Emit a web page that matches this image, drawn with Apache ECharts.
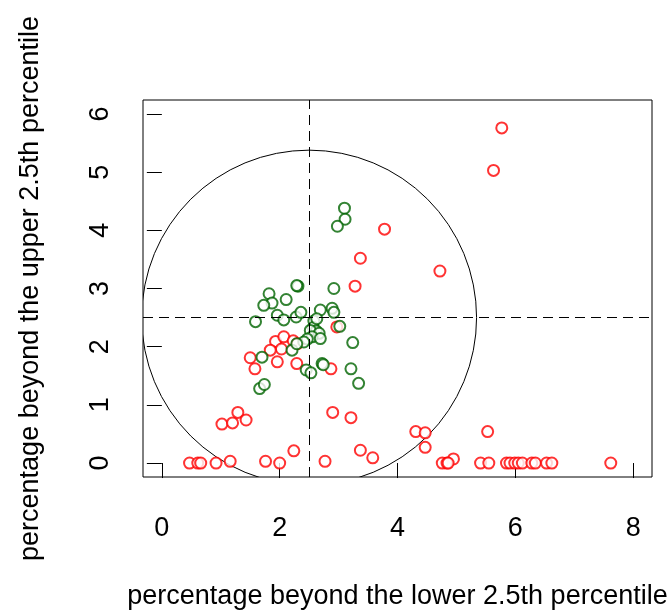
<!DOCTYPE html>
<html>
<head>
<meta charset="utf-8">
<script src="https://cdn.jsdelivr.net/npm/echarts@6/dist/echarts.min.js"></script>
<style>
  html, body { margin: 0; padding: 0; background: #fff; }
  #chart { width: 671px; height: 615px; }
</style>
</head>
<body>
<div id="chart"></div>
<script>
// points
const redX = [5.77, 5.63, 4.72, 3.78, 3.37, 3.28,
  2.97, 1.93, 2.07, 2.23, 2.30, 2.03, 1.84, 1.50, 1.58, 1.96, 2.29, 2.87,
  2.90, 3.21, 1.02, 1.20, 1.29, 1.43, 2.24, 3.37, 3.58, 4.31, 4.47, 4.47, 5.53, 4.95, 1.16, 1.76, 2.77,
  0.47, 0.61, 0.66, 0.92, 2.00, 4.76, 4.84, 4.86, 5.41, 5.55, 5.85, 5.91, 5.99, 6.05, 6.12, 6.28, 6.34, 6.53, 6.62, 7.62]
const redY = [5.76, 5.03, 3.30, 4.02, 3.52, 3.04,
  2.34, 2.09, 2.17, 2.10, 2.05, 1.96, 1.94, 1.81, 1.62, 1.74, 1.71, 1.62,
  0.87, 0.78, 0.67, 0.69, 0.87, 0.74, 0.21, 0.22, 0.09, 0.54, 0.52, 0.27, 0.54, 0.07, 0.03, 0.03, 0.03,
  0, 0, 0, 0, 0, 0, 0, 0, 0, 0, 0, 0, 0, 0, 0, 0, 0, 0, 0, 0]
const greenX = [3.10, 3.11, 2.98, 2.31, 2.29, 2.92, 1.82, 1.87, 1.73, 2.11,
  1.96, 2.07, 1.59, 2.28, 2.36, 2.69, 2.89, 2.92, 3.02, 2.58,
  2.57, 2.62, 2.52, 2.67, 2.55, 2.47, 2.69, 2.41, 3.24, 2.21,
  2.29, 1.70, 2.72, 2.74, 3.21, 3.34, 2.45, 2.53, 1.66, 1.74, 2.63]
const greenY = [4.38, 4.19, 4.07, 3.04, 3.05, 3.00, 2.91, 2.75, 2.71, 2.81,
  2.54, 2.46, 2.43, 2.51, 2.59, 2.63, 2.66, 2.59, 2.35, 2.44,
  2.33, 2.27, 2.28, 2.23, 2.17, 2.13, 2.14, 2.08, 2.07, 1.94,
  2.05, 1.82, 1.71, 1.69, 1.62, 1.37, 1.60, 1.55, 1.28, 1.35, 2.48]
const xTicks = [0, 2, 4, 6, 8]
const yTicks = [0, 1, 2, 3, 4, 5, 6]
const cutoff = 2.5
const circleRadius = 2.86

const FONT = 'Liberation Sans'
const toPairs = (xs, ys) => xs.map((x, i) => [x, ys[i]])

const chart = echarts.init(document.getElementById('chart'))

const axisCommon = {
  type: 'value',
  axisLine: {show: false},
  splitLine: {show: false},
  axisTick: {show: true, inside: false, length: 15, lineStyle: {color: '#000', width: 1}},
  nameLocation: 'middle',
  nameTextStyle: {fontFamily: FONT, fontSize: 27, color: '#000'}
}

chart.setOption({
  animation: false,
  grid: {
    left: 143, right: 19, top: 100, bottom: 134,
    show: true, borderColor: '#000', borderWidth: 1, backgroundColor: 'transparent'
  },
  xAxis: Object.assign({}, axisCommon, {
    min: -0.32, max: 8.32,
    name: 'percentage beyond the lower 2.5th percentile',
    nameGap: 106,
    axisTick: Object.assign({}, axisCommon.axisTick, {customValues: xTicks}),
    axisLabel: {customValues: xTicks, margin: 38, fontFamily: FONT, fontSize: 27, lineHeight: 27, color: '#000'}
  }),
  yAxis: Object.assign({}, axisCommon, {
    min: -0.24, max: 6.24,
    name: 'percentage beyond the upper 2.5th percentile',
    nameGap: 99,
    axisTick: Object.assign({}, axisCommon.axisTick, {customValues: yTicks}),
    axisLabel: {customValues: yTicks, rotate: 90, margin: 29, fontFamily: FONT, fontSize: 27, lineHeight: 27, color: '#000'}
  }),
  series: [
    {
      type: 'custom',
      silent: true,
      data: [[cutoff, cutoff, circleRadius]],
      renderItem: (params, api) => {
        const c = api.coord([api.value(0), api.value(1)])
        const s = api.size([api.value(2), api.value(2)])
        const cs = params.coordSys
        return {
          type: 'circle',
          shape: {cx: c[0], cy: c[1], r: (s[0] + s[1]) / 2},
          style: {fill: 'none', stroke: '#000', lineWidth: 1},
          clipPath: {type: 'rect', shape: {x: cs.x, y: cs.y, width: cs.width, height: cs.height}}
        }
      }
    },
    {
      type: 'scatter',
      data: toPairs(redX, redY),
      symbol: 'emptyCircle',
      symbolSize: 11,
      itemStyle: {color: '#ff0000', borderColor: '#ff0000', borderWidth: 1},
      markLine: {
        silent: true,
        symbol: 'none',
        label: {show: false},
        lineStyle: {color: '#000', type: [10, 6], width: 1},
        data: [{xAxis: cutoff}, {yAxis: cutoff}]
      }
    },
    {
      type: 'scatter',
      data: toPairs(greenX, greenY),
      symbol: 'emptyCircle',
      symbolSize: 11,
      itemStyle: {color: '#006400', borderColor: '#006400', borderWidth: 1}
    }
  ]
})
</script>
</body>
</html>
